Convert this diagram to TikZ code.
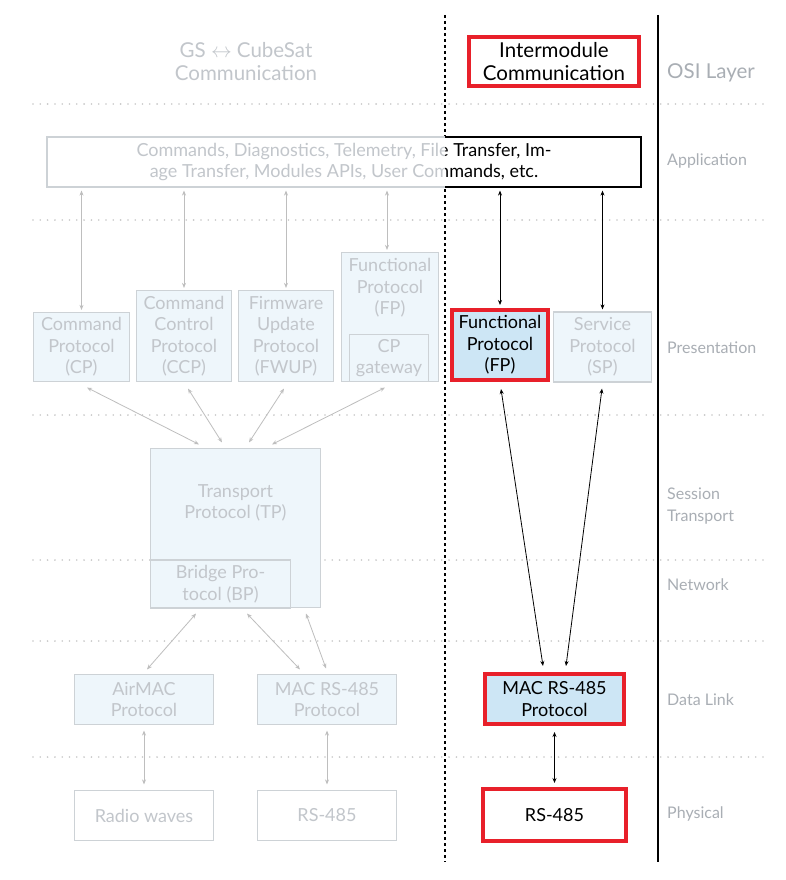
\documentclass[tikz,border=0pt]{standalone}
\usepackage{fontspec}
\setmainfont{Lato}
\usetikzlibrary{arrows.meta,calc}
\definecolor{ltxt}{HTML}{C2C6CB}
\definecolor{osi}{HTML}{A9AEB4}
\definecolor{lbord}{HTML}{CDD2D6}
\definecolor{lfill}{HTML}{EEF6FB}
\definecolor{hfill}{HTML}{CDE6F5}
\definecolor{rred}{HTML}{E8202A}
\definecolor{garr}{HTML}{BEBEBE}
\definecolor{dotc}{HTML}{C8C8C8}
\begin{document}
\begin{tikzpicture}[x=1pt,y=-1pt,
  boxfont/.style={font=\fontsize{18}{21.5}\selectfont},
  headfont/.style={font=\fontsize{20.5}{23}\selectfont},
  gbox/.style={boxfont, draw=lbord, fill=lfill, line width=1.2pt, text=ltxt, align=center, inner sep=0pt},
  wbox/.style={gbox, fill=white},
  hbox/.style={boxfont, draw=rred, fill=hfill, line width=4pt, text=black, align=center, inner sep=0pt},
  hwbox/.style={hbox, fill=white},
  btext/.style={boxfont, text=ltxt, align=center, inner sep=0pt},
  osilabel/.style={font=\fontsize{16}{22}\selectfont, text=osi, align=left, inner sep=0pt, anchor=west},
  layerline/.style={dotc, line width=1.8pt, line cap=round, dash pattern=on 0pt off 7.3pt},
  garrow/.style={garr, line width=0.8pt, {Stealth[length=5pt,width=4pt]}-{Stealth[length=5pt,width=4pt]}},
  barrow/.style={black, line width=0.8pt, {Stealth[length=5pt,width=4pt]}-{Stealth[length=5pt,width=4pt]}},
]
\useasboundingbox (0,0) rectangle (786,880);
\fill[white] (0,0) rectangle (786,880);

% layer separators
\foreach \yy in {104,220,415,560,641,757}
  \draw[layerline] (33,\yy) -- (765,\yy);

% column separators
\coordinate (dtop) at (445,15);
\coordinate (dbot) at (445,862);
\coordinate (stop) at (658,15);
\coordinate (sbot) at (658,862);
\draw[black, line width=1.6pt, dash pattern=on 3pt off 3pt] (dtop) -- (dbot);
\draw[black, line width=1.6pt] (stop) -- (sbot);

% column headings
\node[headfont, text=ltxt, align=center, inner sep=0pt] (gshead) at (246,62)
  {GS $\leftrightarrow$ CubeSat\\Communication};
\node[hwbox, headfont, minimum width=170, minimum height=49] (imhead) at (554,62)
  {Intermodule\\Communication};
\node[osilabel, headfont] (osihead) at (667,73) {OSI Layer};

% OSI layer names
\node[osilabel] (lapp) at (667,161) {Application};
\node[osilabel] (lpres) at (667,348) {Presentation};
\node[osilabel] (lsess) at (667,506) {Session\\Transport};
\node[osilabel] (lnet) at (667,585) {Network};
\node[osilabel] (ldl) at (667,700) {Data Link};
\node[osilabel] (lphy) at (667,814) {Physical};

% application layer box (grey part, then black part right of the divider)
\node[wbox, minimum width=594, minimum height=50] (app) at (344,162)
  {Commands, Diagnostics, Telemetry, File Transfer, Im-\\age Transfer, Modules APIs, User Commands, etc.};
\begin{scope}
  \clip (445,120) rectangle (700,200);
  \node[wbox, draw=black, text=black, minimum width=594, minimum height=50] (appR) at (344,162)
    {Commands, Diagnostics, Telemetry, File Transfer, Im-\\age Transfer, Modules APIs, User Commands, etc.};
\end{scope}

% presentation layer
\node[gbox, minimum width=96, minimum height=69] (cp) at (81.5,347) {Command\\Protocol\\(CP)};
\node[gbox, minimum width=95, minimum height=91] (ccp) at (184,336) {Command\\Control\\Protocol\\(CCP)};
\node[gbox, minimum width=95, minimum height=91] (fwup) at (286,336) {Firmware\\Update\\Protocol\\(FWUP)};
\node[gbox, minimum width=97, minimum height=129] (fpg) at (390,317) {};
\node[btext] (fpgt) at (390,288) {Functional\\Protocol\\(FP)};
\node[gbox, minimum width=79, minimum height=47] (cpgw) at (389,358) {CP\\gateway};
\node[hbox, minimum width=96, minimum height=70] (fpr) at (500,345) {Functional\\Protocol\\(FP)};
\node[gbox, minimum width=98, minimum height=70] (sp) at (602.5,347) {Service\\Protocol\\(SP)};

% session / transport and network
\node[gbox, minimum width=170, minimum height=159] (tp) at (235.5,528) {};
\node[btext] (tpt) at (235.5,503) {Transport\\Protocol (TP)};
\node[gbox, minimum width=140, minimum height=48] (bp) at (220.5,584) {Bridge Pro-\\tocol (BP)};

% data link
\node[gbox, minimum width=139, minimum height=50] (airmac) at (144,699.5) {AirMAC\\Protocol};
\node[gbox, minimum width=139, minimum height=50] (macg) at (327,699.5) {MAC RS-485\\Protocol};
\node[hbox, minimum width=139, minimum height=50] (macr) at (554.5,699) {MAC RS-485\\Protocol};

% physical
\node[wbox, minimum width=139, minimum height=50] (radio) at (144,815.5) {Radio waves};
\node[wbox, minimum width=139, minimum height=50] (rsg) at (327,815.5) {RS-485};
\node[hwbox, minimum width=143, minimum height=52] (rsr) at (554.5,815) {RS-485};

% application <-> presentation
\draw[garrow, shorten <=3pt, shorten >=2pt] (app.south -| cp.north) -- (cp.north);
\draw[garrow, shorten <=3pt, shorten >=2pt] (app.south -| ccp.north) -- (ccp.north);
\draw[garrow, shorten <=3pt, shorten >=2pt] (app.south -| fwup.north) -- (fwup.north);
\draw[garrow, shorten <=3pt, shorten >=2pt] ($(app.south -| fpg.north)+(-3,0)$) -- ($(fpg.north)+(-3,0)$);
\draw[barrow, shorten <=3pt, shorten >=3pt] (appR.south -| fpr.north) -- (fpr.north);
\draw[barrow, shorten <=3pt, shorten >=2pt] (appR.south -| sp.north) -- (sp.north);

% presentation <-> transport
\draw[garrow] ($(cp.south)+(5.5,5.5)$) -- ($(tp.north)+(-36.5,-3.5)$);
\draw[garrow] ($(ccp.south)+(4,6.5)$) -- ($(tp.north)+(-13.5,-5.5)$);
\draw[garrow] ($(fwup.south)+(-2,6.5)$) -- ($(tp.north)+(13.5,-5.5)$);
\draw[garrow] ($(fpg.south)+(-5,5.5)$) -- ($(tp.north)+(36.5,-3.5)$);

% transport / bridge <-> data link
\draw[garrow] ($(bp.south)+(-24.5,5)$) -- ($(airmac.north)+(3,-4.5)$);
\draw[garrow] ($(bp.south)+(26.5,5)$) -- ($(macg.north)+(-27,-4.5)$);
\draw[garrow] ($(tp.south)+(70.5,5.5)$) -- ($(macg.north)+(-1,-5.5)$);

% intermodule presentation <-> data link
\draw[barrow] ($(fpr.south)+(1,7)$) -- ($(macr.north)+(-11.5,-6)$);
\draw[barrow] ($(sp.south)+(-0.5,6)$) -- ($(macr.north)+(11.5,-6)$);

% data link <-> physical
\draw[garrow, shorten <=5.5pt, shorten >=5.5pt] (airmac.south) -- (radio.north);
\draw[garrow, shorten <=5.5pt, shorten >=5.5pt] (macg.south) -- (rsg.north);
\draw[barrow, shorten <=6pt, shorten >=4pt] (macr.south) -- (rsr.north);
\end{tikzpicture}
\end{document}
